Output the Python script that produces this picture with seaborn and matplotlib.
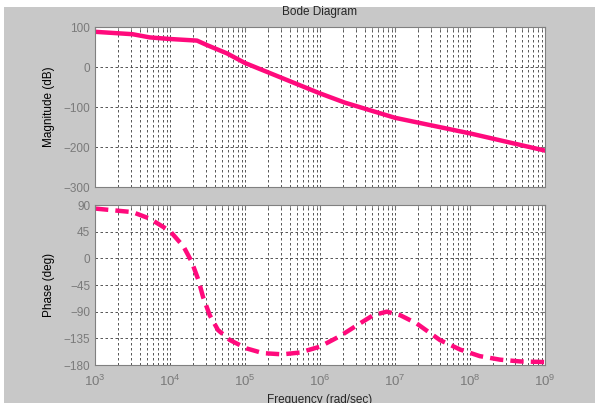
import numpy as np
import pandas as pd
import matplotlib
matplotlib.use("Agg")
import matplotlib.pyplot as plt
import matplotlib.ticker as mticker
import seaborn as sns

# magnitude curve (frequency in rad/sec, value in dB)
mag_freq = [1e3, 10**3.5, 10**3.73, 1e4, 10**4.36, 10**4.49, 10**4.76, 1e5,
            10**5.5, 1e6, 10**6.33, 1e7, 1e8, 1e9]
mag_db = [88, 82, 74, 70, 66, 55, 34, 10,
          -28, -66, -89, -127, -166, -209]

# phase curve (deg)
ph_freq = [1e3, 10**3.5, 10**3.73, 1e4, 10**4.18, 10**4.29, 10**4.38, 10**4.44, 10**4.53,
           10**4.64, 10**4.8, 10**5.02, 10**5.24, 10**5.5, 10**5.73, 1e6, 10**6.27,
           10**6.53, 10**6.71, 10**6.89, 10**7.07, 10**7.29, 10**7.6, 10**7.87, 10**8.13,
           10**8.4, 10**8.67, 1e9]
ph_deg = [84, 78, 67, 46, 20, -6, -37, -65, -96,
          -121, -138, -152, -160, -162, -159, -149, -131,
          -110, -96, -90, -96, -110, -138, -154, -165,
          -171, -174, -175]

mag_ticks = [100, 0, -100, -200, -300]
ph_ticks = [90, 45, 0, -45, -90, -135, -180]

line_col = "#ff0a7c"
bg = "#c8c8c8"
tick_col = "#7a7a7a"

sns.set_style("white")
plt.rcParams['font.family'] = ['Liberation Sans', 'DejaVu Sans']

fig = plt.figure(figsize=(5.95, 4.03), dpi=100, facecolor=bg)
# white strip at top / left edge of the screenshot
fig.patches.append(plt.Rectangle((0, 1 - 7/403), 1, 7/403, transform=fig.transFigure,
                                 facecolor="white", edgecolor="none", zorder=-1))
fig.patches.append(plt.Rectangle((0, 0), 4/595, 1, transform=fig.transFigure,
                                 facecolor="white", edgecolor="none", zorder=-1))

ax1 = fig.add_axes([95/595, 1 - 187/403, 450/595, 160/403])
ax2 = fig.add_axes([95/595, 1 - 365/403, 450/595, 160/403])

df_mag = pd.DataFrame({"f": mag_freq, "v": mag_db})
df_ph = pd.DataFrame({"f": ph_freq, "v": ph_deg})

sns.lineplot(data=df_mag, x="f", y="v", ax=ax1, color=line_col, lw=3.2)
sns.lineplot(data=df_ph, x="f", y="v", ax=ax2, color=line_col, lw=3.2, linestyle=(0, (3, 1.6)))

for ax, ticks in [(ax1, mag_ticks), (ax2, ph_ticks)]:
    ax.set_xscale("log")
    ax.set_xlim(1e3, 1e9)
    ax.set_ylim(min(ticks), max(ticks))
    ax.set_yticks(ticks)
    ax.xaxis.set_major_locator(mticker.LogLocator(base=10, numticks=10))
    ax.xaxis.set_minor_locator(mticker.LogLocator(base=10, subs=np.arange(2, 10), numticks=100))
    ax.grid(True, which="major", color="#3a3a3a", linestyle=(0, (3, 3)), lw=0.6)
    ax.grid(True, which="minor", axis="x", color="#3a3a3a", linestyle=(0, (3, 3)), lw=0.6)
    ax.set_facecolor("white")
    for s in ax.spines.values():
        s.set_color("#808080")
        s.set_linewidth(0.8)
    ax.tick_params(axis="both", which="both", direction="in", colors=tick_col,
                   top=True, right=True, labelsize=8.5, length=3)
    ax.tick_params(axis="both", which="minor", length=2)
    ax.set_xlabel("")
    ax.set_ylabel("")

ax1.tick_params(axis="x", which="both", labelbottom=False)
ax2.xaxis.set_major_formatter(mticker.LogFormatterMathtext())
ax2.tick_params(axis="x", labelsize=9.5, pad=6)

ax1.set_ylabel("Magnitude (dB)", fontsize=8.5, color="black", labelpad=6)
ax2.set_ylabel("Phase (deg)", fontsize=8.5, color="black", labelpad=6)

fig.text(320/595, 1 - 12/403, "Bode Diagram", ha="center", va="center", fontsize=8.5)
fig.text(320/595, 1 - 394/403, "Frequency (rad/sec)", ha="center", va="top", fontsize=8.5)

fig.savefig("out.png", dpi=100, facecolor=bg)
